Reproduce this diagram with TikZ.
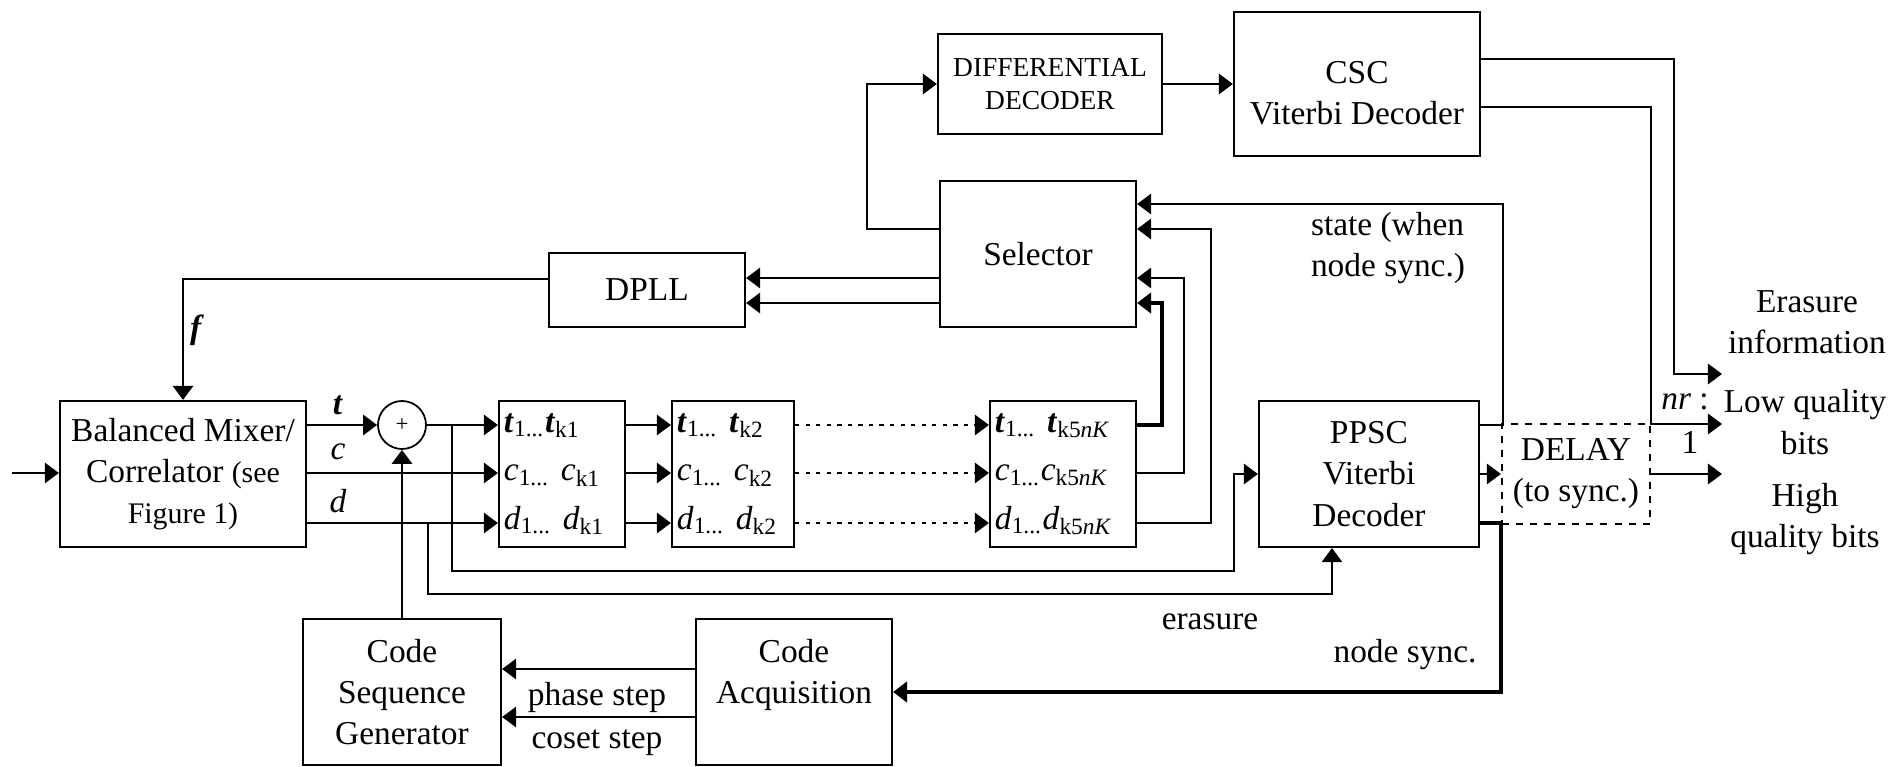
\documentclass[tikz,border=0pt]{standalone}
\usepackage{fontspec}
\setmainfont{Liberation Serif}
\usepackage{tikz}
\usetikzlibrary{arrows.meta}
\newcommand{\bt}{\textbf{\textit{t}}}
\newcommand{\smalltxt}{\fontsize{8.5pt}{9.8pt}\selectfont}
\newcommand{\difftxt}{\fontsize{7.8pt}{9.3pt}\selectfont}

\begin{document}
\begin{tikzpicture} [x=0.01cm,y=-0.01cm,every node/.style={align=center,font=\fontsize{9.5pt}{11.7pt}\selectfont},
		block/.style={draw,line width=0.6pt,inner sep=0pt},
		reg/.style={block,minimum height=1.46cm,align=left,inner xsep=0.05cm,font=\fontsize{9.5pt}{13.8pt}\selectfont},
		arr/.style={line width=0.6pt,-{Triangle[length=4pt,width=5.8pt]}},
		bus/.style={line width=1.2pt},
		dots/.style={dash pattern=on 1.2pt off 1.8pt}]
			\useasboundingbox (0,0) rectangle (1896,767);
			\node [block,minimum width=2.46cm,minimum height=1.46cm] (mix) at (183,474) {Balanced Mixer/\\Correlator {\smalltxt (see}\\{\smalltxt Figure 1)}};
			\node [draw,circle,line width=0.5pt,minimum size=0.48cm,inner sep=0pt] (add) at (402,425) {\fontsize{6.5pt}{6.5pt}\selectfont +};
			\node [reg,text width=1.16cm] (reg1) at (562,474) {\bt\textsubscript{1...}\bt\textsubscript{k1}\\\textit{c}\textsubscript{1...} \textit{c}\textsubscript{k1}\\\textit{d}\textsubscript{1...} \textit{d}\textsubscript{k1}};
			\node [reg,text width=1.12cm] (reg2) at (733,474) {\bt\textsubscript{1...} \bt\textsubscript{k2}\\\textit{c}\textsubscript{1...} \textit{c}\textsubscript{k2}\\\textit{d}\textsubscript{1...} \textit{d}\textsubscript{k2}};
			\node [reg,text width=1.36cm] (reg3) at (1063,474) {\bt\textsubscript{1...} \bt\textsubscript{k5\textit{nK}}\\\textit{c}\textsubscript{1...}\textit{c}\textsubscript{k5\textit{nK}}\\\textit{d}\textsubscript{1...}\textit{d}\textsubscript{k5\textit{nK}}};
			\node [block,minimum width=2.2cm,minimum height=1.46cm] (ppsc) at (1369,474) {PPSC\\Viterbi\\Decoder};
			\node [block,dashed,dash pattern=on 2pt off 2pt,minimum width=1.48cm,minimum height=1cm] (dly) at (1576,474) {DELAY\\(to sync.)};
			\node [block,minimum width=1.96cm,minimum height=1.46cm] (sel) at (1038,254) {Selector};
			\node [block,minimum width=1.96cm,minimum height=0.74cm] (dpll) at (647,290) {DPLL};
			\node [block,minimum width=2.24cm,minimum height=1cm,font=\difftxt] (diff) at (1050,84) {DIFFERENTIAL\\DECODER};
			\node [block,minimum width=2.46cm,minimum height=1.44cm] (csc) at (1357,84) {\mbox{}\\CSC\\Viterbi Decoder};
			\node [block,minimum width=1.98cm,minimum height=1.46cm] (csg) at (402,692) {Code\\Sequence\\Generator};
			\node [block,minimum width=1.96cm,minimum height=1.46cm] (acq) at (794,692) {Code\\Acquisition\\\mbox{}};

			\coordinate (in) at (12,473);
			\coordinate (rowc) at (0,473);
			\coordinate (rowd) at (0,523);
			\coordinate (tapt) at (452,425);
			\coordinate (tapd) at (428,523);
			\coordinate (bust) at (1234,571);
			\coordinate (busd) at (1332,594);
			\coordinate (outera) at (1722,374);
			\coordinate (outlow) at (1722,424);
			\coordinate (outhigh) at (1722,474);

			\draw [arr] (in) -- (mix.west |- in);
			\draw [arr] (mix.east |- add) -- (add.west);
			\draw [arr] (add.east) -- (reg1.west |- add);
			\draw [arr] (mix.east |- rowc) -- (reg1.west |- rowc);
			\draw [arr] (mix.east |- rowd) -- (reg1.west |- rowd);
			\draw [arr] (csg.north) -- (add.south);
			\foreach \r in {add,rowc,rowd}
			{
				\draw [arr] (reg1.east |- \r) -- (reg2.west |- \r);
				\draw [arr,dots] (reg2.east |- \r) -- (reg3.west |- \r);
			}
			\draw [arr] (tapt) |- (bust) |- (ppsc.west);
			\draw [arr] (tapd) |- (busd) -- (busd |- ppsc.south);
			\draw [arr,bus] (reg3.east |- add) -- ++(25,0) |- (sel.east |- 0,303);
			\draw [arr] (reg3.east |- rowc) -- ++(47,0) |- (sel.east |- 0,278);
			\draw [arr] (reg3.east |- rowd) -- ++(74,0) |- (sel.east |- 0,229);
			\draw [arr] (ppsc.east |- add) -- ++(23,0) |- (sel.east |- 0,204);
			\draw [arr] (ppsc.east) -- (dly.west);
			\draw [arr,bus] (ppsc.east |- rowd) -- ++(21,0) |- (acq.east);
			\foreach \y in {278,303}
				\draw [arr] (sel.west |- 0,\y) -- (dpll.east |- 0,\y);
			\draw [arr] (dpll.west |- 0,279) -| (mix.north);
			\draw [arr] (sel.west |- 0,229) -- ++(-72,0) |- (diff.west);
			\draw [arr] (diff.east) -- (csc.west |- diff.east);
			\draw [arr] (csc.east |- 0,59) -- ++(193,0) |- (outera);
			\draw [arr] (csc.east |- 0,107) -- ++(170,0) |- (outlow);
			\draw [arr] (dly.east) -- (outhigh);
			\foreach \y in {669,717}
				\draw [arr] (acq.west |- 0,\y) -- (csg.east |- 0,\y);

			\node (lt) at (338,405) {\bt};
			\node (lc) at (338,452) {\textit{c}};
			\node (ld) at (338,501) {\textit{d}};
			\node (lf) at (197,330) {\textbf{\textit{f}}};
			\node (lphase) at (597,697) {phase step};
			\node (lcoset) at (597,743) {coset step};
			\node (lerasure) at (1210,622) {erasure};
			\node (lnsync) at (1405,655) {node sync.};
			\node [align=left] (lstate) at (1388,248) {state (when\\node sync.)};
			\node (lera) at (1807,322) {Erasure\\information};
			\node (llow) at (1805,422) {Low quality\\bits};
			\node (lhigh) at (1805,519) {High\\quality bits};
			\node (lnr) at (1685,402) {\textit{nr} :};
			\node (lone) at (1690,442) {1};
		\end{tikzpicture}
\end{document}
